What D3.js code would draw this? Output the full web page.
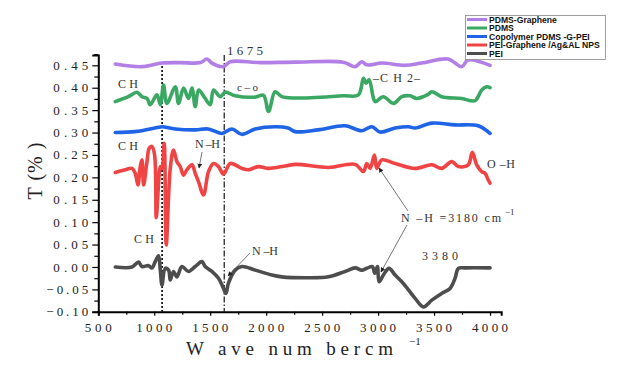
<!DOCTYPE html>
<html><head><meta charset="utf-8">
<script src="https://cdn.jsdelivr.net/npm/d3@7"></script>
<style>body{margin:0;background:#fff}svg{display:block}</style>
</head><body>
<script>
// ---- DATA ----
const seriesNames = ["PDMS-Graphene","PDMS","Copolymer PDMS -G-PEI","PEI-Graphene /Ag&AL NPS","PEI"];
const seriesColors = ["#b27fe6","#3aa862","#1f63e6","#f04444","#4d4d4d"];
const pdmsGraphene = [[652,0.453],[890,0.447],[1069,0.455],[1232,0.456],[1411,0.456],[1471,0.464],[1515,0.455],[1616,0.447],[1679,0.458],[1946,0.456],[2259,0.457],[2688,0.457],[2795,0.447],[2854,0.458],[2899,0.451],[3033,0.455],[3241,0.450],[3390,0.455],[3625,0.464],[3747,0.447],[3804,0.462],[4000,0.450]];
const pdms = [[652,0.369],[768,0.380],[846,0.390],[890,0.380],[935,0.376],[964,0.362],[1024,0.384],[1054,0.362],[1083,0.406],[1113,0.365],[1188,0.402],[1217,0.365],[1262,0.399],[1306,0.376],[1337,0.399],[1366,0.358],[1396,0.395],[1455,0.376],[1500,0.362],[1530,0.395],[1589,0.380],[1634,0.390],[1723,0.382],[1902,0.379],[1976,0.383],[2021,0.347],[2080,0.391],[2140,0.380],[2259,0.377],[2688,0.382],[2824,0.384],[2869,0.421],[2893,0.410],[2920,0.418],[2955,0.380],[2974,0.369],[3047,0.380],[3137,0.365],[3212,0.380],[3286,0.382],[3346,0.376],[3447,0.385],[3480,0.391],[3568,0.380],[3747,0.376],[3866,0.371],[3926,0.395],[3971,0.402],[4000,0.400]];
const copolymer = [[652,0.300],[830,0.302],[1024,0.311],[1069,0.313],[1188,0.308],[1366,0.306],[1482,0.308],[1604,0.298],[1694,0.308],[1783,0.296],[1902,0.308],[2080,0.313],[2196,0.310],[2259,0.302],[2464,0.306],[2705,0.315],[2854,0.304],[2944,0.313],[3018,0.301],[3152,0.310],[3271,0.313],[3331,0.310],[3480,0.321],[3688,0.317],[3893,0.315],[4000,0.298]];
const peiGraphene = [[652,0.211],[741,0.217],[801,0.220],[830,0.209],[854,0.183],[875,0.224],[890,0.239],[905,0.183],[935,0.235],[955,0.265],[979,0.269],[1003,0.250],[1018,0.110],[1038,0.183],[1054,0.224],[1069,0.220],[1089,0.276],[1107,0.049],[1143,0.220],[1172,0.261],[1203,0.235],[1232,0.224],[1262,0.205],[1292,0.217],[1337,0.228],[1366,0.209],[1396,0.190],[1440,0.161],[1485,0.213],[1530,0.231],[1574,0.224],[1619,0.207],[1679,0.231],[1783,0.220],[1842,0.217],[1931,0.224],[2021,0.220],[2140,0.224],[2259,0.229],[2556,0.222],[2795,0.229],[2869,0.213],[2899,0.231],[2929,0.220],[2967,0.250],[2988,0.220],[3033,0.239],[3152,0.231],[3331,0.220],[3480,0.228],[3568,0.220],[3658,0.235],[3717,0.224],[3806,0.228],[3842,0.256],[3881,0.228],[3926,0.213],[3955,0.209],[3985,0.194],[4000,0.187]];
const pei = [[652,0.000],[801,0.000],[860,0.011],[890,0.001],[949,0.003],[979,-0.002],[1009,0.012],[1038,0.025],[1054,-0.007],[1069,-0.040],[1098,-0.003],[1128,-0.007],[1143,-0.029],[1172,-0.010],[1203,-0.022],[1247,0.001],[1306,-0.010],[1366,0.001],[1426,0.012],[1455,0.001],[1515,-0.010],[1574,-0.025],[1619,-0.048],[1640,-0.059],[1663,-0.036],[1723,-0.007],[1783,0.001],[1902,-0.007],[2051,-0.018],[2140,-0.022],[2348,-0.024],[2556,-0.022],[2705,-0.010],[2795,-0.002],[2854,-0.007],[2899,-0.003],[2949,0.001],[2970,-0.014],[2994,0.001],[3009,-0.033],[3047,-0.018],[3098,-0.003],[3152,-0.018],[3212,-0.033],[3271,-0.051],[3331,-0.070],[3405,-0.089],[3480,-0.074],[3568,-0.059],[3643,-0.048],[3688,-0.025],[3717,-0.003],[3777,-0.002],[4000,-0.002]];
const seriesData = [pdmsGraphene, pdms, copolymer, peiGraphene, pei];
const xTicks = [500,1000,1500,2000,2500,3000,3500,4000];
const yTicks = [-0.10,-0.05,0.00,0.05,0.10,0.15,0.20,0.25,0.30,0.35,0.40,0.45];
const xLabel = "W ave num bercm", xLabelSup = "−1";
const yLabel = "T (% )";
const dottedLineX = 1070, dashDotLineX = 1625, dashDotLabel = "1675";

// ---- CHART ----
const W = 641, H = 367;
const svg = d3.select("body").append("svg").attr("width", W).attr("height", H);
const x = d3.scaleLinear().domain([500, 4100]).range([98.3, 501.2]);
const y = d3.scaleLinear().domain([-0.10, 0.473]).range([311.8, 55]);
const serif = "'Liberation Serif','DejaVu Serif',serif";

// reference lines
svg.append("line").attr("x1", x(dottedLineX)).attr("x2", x(dottedLineX)).attr("y1", 62).attr("y2", y(-0.1))
  .attr("stroke", "#000").attr("stroke-width", 1.6).attr("stroke-dasharray", "2,2");
svg.append("line").attr("x1", x(dashDotLineX)).attr("x2", x(dashDotLineX)).attr("y1", 55).attr("y2", y(-0.1))
  .attr("stroke", "#000").attr("stroke-width", 1.1).attr("stroke-dasharray", "6,2,1.5,2");

// series
const line = d3.line().x(d => x(d[0])).y(d => y(d[1])).curve(d3.curveCatmullRom.alpha(0.5));
seriesData.forEach((s, i) => {
  svg.append("path").datum(s).attr("d", line).attr("fill", "none")
    .attr("stroke", seriesColors[i]).attr("stroke-width", 3.6)
    .attr("stroke-linejoin", "round").attr("stroke-linecap", "round");
});

// axes
const gx = svg.append("g").attr("transform", `translate(0,${y(-0.1)})`);
gx.call(d3.axisBottom(x).tickValues(d3.range(500, 4001, 250)).tickSize(4).tickFormat(""));
gx.call(g => g.select(".domain").attr("stroke-width", 2));
gx.selectAll(".tick line").attr("stroke-width", 1.2).attr("y2", d => d % 500 === 0 ? 4 : 3);
xTicks.forEach(t => gx.append("text").attr("x", x(t)).attr("y", 20.5).attr("text-anchor", "middle")
  .attr("font-family", serif).attr("font-size", 13).attr("textLength", t >= 1000 ? 36 : 27)
  .attr("lengthAdjust", "spacing").attr("fill", "#222").text(t));

const gy = svg.append("g").attr("transform", `translate(${x(500)},0)`);
gy.call(d3.axisLeft(y).tickValues(d3.range(-0.10, 0.4751, 0.025)).tickSize(6).tickFormat(""));
gy.call(g => g.select(".domain").attr("stroke-width", 2));
gy.selectAll(".tick line").attr("stroke-width", 1.2).attr("x2", (d, i) => i % 2 === 0 ? -6 : -4);
yTicks.forEach(t => gy.append("text").attr("x", -10).attr("y", y(t)).attr("dy", "0.35em")
  .attr("text-anchor", "end").attr("font-family", serif).attr("font-size", 13)
  .attr("textLength", t < 0 ? 42 : 35).attr("lengthAdjust", "spacing").attr("fill", "#222")
  .text(d3.format(".2f")(t).replace("-", "−")));

// axis titles
svg.append("text").attr("x", 186).attr("y", 355).attr("font-family", serif).attr("font-size", 19)
  .attr("textLength", 207).attr("lengthAdjust", "spacing").attr("fill", "#222").text(xLabel);
svg.append("text").attr("x", 409).attr("y", 345).attr("font-family", serif).attr("font-size", 11)
  .attr("fill", "#222").text(xLabelSup);
svg.append("text").attr("transform", "translate(42,171) rotate(-90)").attr("text-anchor", "middle")
  .attr("font-family", serif).attr("font-size", 20).attr("textLength", 57).attr("lengthAdjust", "spacing")
  .attr("fill", "#222").text(yLabel);

// annotations
const ann = [
  [dashDotLabel, 227, 55, 13, 36],
  ["C H", 118, 88, 12, 20],
  ["C H", 118, 150, 12, 20],
  ["C H", 134, 243, 12, 20],
  ["c–o", 237, 91, 11, 21],
  ["–C H 2–", 373, 82, 12, 47],
  ["N –H", 195, 148, 12, 25],
  ["N –H", 252, 255, 12, 26],
  ["O –H", 487, 168, 12, 28],
  ["N –H =3180 cm", 401, 222, 12, 100],
  ["3380", 422, 260, 12, 36]
];
ann.forEach(a => svg.append("text").attr("x", a[1]).attr("y", a[2]).attr("font-family", serif)
  .attr("font-size", a[3]).attr("textLength", a[4]).attr("lengthAdjust", "spacing").attr("fill", "#333").text(a[0]));
svg.append("text").attr("x", 505).attr("y", 215).attr("font-family", serif).attr("font-size", 9)
  .attr("fill", "#333").text("−1");

// arrows
const defs = svg.append("defs");
defs.append("marker").attr("id", "ah").attr("viewBox", "0 0 10 10").attr("refX", 9).attr("refY", 5)
  .attr("markerWidth", 6).attr("markerHeight", 6).attr("orient", "auto")
  .append("path").attr("d", "M0,0L10,5L0,10z").attr("fill", "#222");
const arrows = [[202, 152, 199, 168], [250, 253, 228, 276], [408, 211, 379, 168], [407, 225, 381, 272]];
arrows.forEach(a => svg.append("line").attr("x1", a[0]).attr("y1", a[1]).attr("x2", a[2]).attr("y2", a[3])
  .attr("stroke", "#555").attr("stroke-width", 0.8).attr("marker-end", "url(#ah)"));

// legend
const lg = svg.append("g");
lg.append("rect").attr("x", 465.5).attr("y", 15.5).attr("width", 140).attr("height", 44)
  .attr("fill", "#fff").attr("stroke", "#888").attr("stroke-width", 0.8);
seriesNames.forEach((n, i) => {
  const yy = 19.5 + i * 8.5;
  lg.append("line").attr("x1", 467).attr("x2", 487).attr("y1", yy).attr("y2", yy)
    .attr("stroke", seriesColors[i]).attr("stroke-width", 3);
  lg.append("text").attr("x", 489).attr("y", yy).attr("dy", "0.35em")
    .attr("font-family", "'Liberation Sans',Arial,sans-serif").attr("font-weight", "bold")
    .attr("font-size", 8.6).attr("fill", "#111").text(n);
});
</script>
</body></html>
